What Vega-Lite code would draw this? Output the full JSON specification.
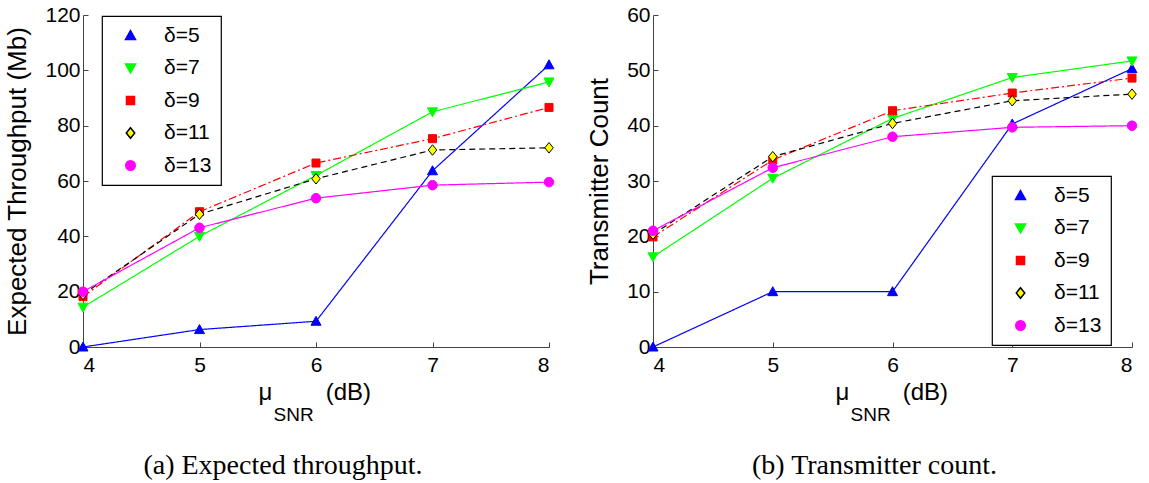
{
  "$schema": "https://vega.github.io/schema/vega-lite/v6.json",
  "background": "white",
  "padding": {"left": 4, "top": 4, "right": 5, "bottom": 0},
  "spacing": 30,
  "config": {
    "font": "Liberation Sans",
    "view": {"stroke": null},
    "axis": {
      "labelFont": "Liberation Sans",
      "titleFont": "Liberation Sans",
      "labelFontSize": 21,
      "titleFontSize": 26,
      "titleFontWeight": "normal",
      "labelColor": "black",
      "titleColor": "black",
      "domainColor": "#444444",
      "tickColor": "#444444",
      "domainWidth": 1,
      "tickWidth": 1,
      "tickSize": -5,
      "grid": false
    },
    "axisY": {"labelPadding": 8, "titlePadding": 14},
    "axisX": {"labelPadding": 12},
    "legend": {
      "labelFont": "Liberation Sans",
      "labelFontSize": 21,
      "labelColor": "black",
      "strokeColor": "black",
      "fillColor": "white",
      "strokeWidth": 1.2,
      "padding": 9,
      "rowPadding": 10.5,
      "symbolSize": 100,
      "symbolOffset": 9,
      "labelOffset": 23,
      "cornerRadius": 0
    },
    "title": {
      "font": "Liberation Serif",
      "fontSize": 28,
      "fontWeight": "normal",
      "color": "black"
    }
  },
  "resolve": {
    "scale": {"color": "independent", "strokeDash": "independent", "shape": "independent", "fill": "independent", "stroke": "independent"},
    "legend": {"shape": "independent", "fill": "independent", "stroke": "independent", "color": "independent", "strokeDash": "independent"}
  },
  "datasets": {
    "throughput": [
      {"snr": 4, "delta": "δ=5", "value": 0},
      {"snr": 5, "delta": "δ=5", "value": 6.3},
      {"snr": 6, "delta": "δ=5", "value": 9.3},
      {"snr": 7, "delta": "δ=5", "value": 63.7},
      {"snr": 8, "delta": "δ=5", "value": 102},
      {"snr": 4, "delta": "δ=7", "value": 14.4},
      {"snr": 5, "delta": "δ=7", "value": 40},
      {"snr": 6, "delta": "δ=7", "value": 62},
      {"snr": 7, "delta": "δ=7", "value": 85},
      {"snr": 8, "delta": "δ=7", "value": 95.8},
      {"snr": 4, "delta": "δ=9", "value": 18.2},
      {"snr": 5, "delta": "δ=9", "value": 48.9},
      {"snr": 6, "delta": "δ=9", "value": 66.5},
      {"snr": 7, "delta": "δ=9", "value": 75.3},
      {"snr": 8, "delta": "δ=9", "value": 86.6},
      {"snr": 4, "delta": "δ=11", "value": 19},
      {"snr": 5, "delta": "δ=11", "value": 48},
      {"snr": 6, "delta": "δ=11", "value": 60.8},
      {"snr": 7, "delta": "δ=11", "value": 71.2},
      {"snr": 8, "delta": "δ=11", "value": 72},
      {"snr": 4, "delta": "δ=13", "value": 20},
      {"snr": 5, "delta": "δ=13", "value": 43.1},
      {"snr": 6, "delta": "δ=13", "value": 53.8},
      {"snr": 7, "delta": "δ=13", "value": 58.5},
      {"snr": 8, "delta": "δ=13", "value": 59.6}
    ],
    "count": [
      {"snr": 4, "delta": "δ=5", "value": 0},
      {"snr": 5, "delta": "δ=5", "value": 10},
      {"snr": 6, "delta": "δ=5", "value": 10},
      {"snr": 7, "delta": "δ=5", "value": 40.3},
      {"snr": 8, "delta": "δ=5", "value": 50.3},
      {"snr": 4, "delta": "δ=7", "value": 16.3},
      {"snr": 5, "delta": "δ=7", "value": 30.5},
      {"snr": 6, "delta": "δ=7", "value": 41.3},
      {"snr": 7, "delta": "δ=7", "value": 48.7},
      {"snr": 8, "delta": "δ=7", "value": 51.7},
      {"snr": 4, "delta": "δ=9", "value": 19.9},
      {"snr": 5, "delta": "δ=9", "value": 33.8},
      {"snr": 6, "delta": "δ=9", "value": 42.7},
      {"snr": 7, "delta": "δ=9", "value": 45.9},
      {"snr": 8, "delta": "δ=9", "value": 48.6},
      {"snr": 4, "delta": "δ=11", "value": 20.4},
      {"snr": 5, "delta": "δ=11", "value": 34.4},
      {"snr": 6, "delta": "δ=11", "value": 40.4},
      {"snr": 7, "delta": "δ=11", "value": 44.5},
      {"snr": 8, "delta": "δ=11", "value": 45.7},
      {"snr": 4, "delta": "δ=13", "value": 21},
      {"snr": 5, "delta": "δ=13", "value": 32.4},
      {"snr": 6, "delta": "δ=13", "value": 38},
      {"snr": 7, "delta": "δ=13", "value": 39.7},
      {"snr": 8, "delta": "δ=13", "value": 40}
    ]
  },
  "hconcat": [
    {
      "width": 466,
      "height": 332,
      "title": {"text": "(a) Expected throughput.", "orient": "bottom", "anchor": "middle", "offset": 28, "dx": -33},
      "data": {"name": "throughput"},
      "resolve": {"axis": {"x": "independent"}},
      "layer": [
        {
          "mark": {"type": "line", "strokeWidth": 1.2},
          "encoding": {
            "x": {"field": "snr", "type": "quantitative", "scale": {"domain": [4, 8], "nice": false},
              "axis": {"orient": "bottom", "values": [4, 5, 6, 7, 8], "title": "μ\u00a0\u00a0\u00a0\u00a0\u00a0\u00a0\u00a0\u00a0(dB)", "titleFontSize": 24, "titleAlign": "left", "titleBaseline": "alphabetic", "titleX": 175, "titleY": 52}},
            "y": {"field": "value", "type": "quantitative", "scale": {"domain": [0, 120], "nice": false},
              "axis": {"values": [0, 20, 40, 60, 80, 100, 120], "title": "Expected Throughput (Mb)"}},
            "color": {"field": "delta", "type": "nominal", "sort": null,
              "scale": {"range": ["#0000ff", "#00ff00", "#ff0000", "#000000", "#ff00ff"]}, "legend": null},
            "strokeDash": {"field": "delta", "type": "nominal", "sort": null,
              "scale": {"range": [[1, 0], [1, 0], [8, 3, 2, 3], [6, 4], [1, 0]]}, "legend": null}
          }
        },
        {
          "mark": {"type": "point", "filled": true, "size": 100, "opacity": 1, "strokeWidth": 1},
          "encoding": {
            "x": {"field": "snr", "type": "quantitative", "scale": {"domain": [4, 8], "nice": false},
              "axis": {"orient": "bottom", "domain": false, "ticks": false, "labels": false, "title": "SNR", "titleFontSize": 19, "titleAlign": "left", "titleBaseline": "alphabetic", "titleX": 190, "titleY": 73}},
            "y": {"field": "value", "type": "quantitative", "scale": {"domain": [0, 120], "nice": false},
              "axis": {"values": [0, 20, 40, 60, 80, 100, 120], "title": "Expected Throughput (Mb)"}},
            "shape": {"field": "delta", "type": "nominal", "sort": null,
              "scale": {"domain": ["δ=5", "δ=7", "δ=9", "δ=11", "δ=13"],
                "range": ["M0,-1L1,0.8L-1,0.8Z", "M0,1L1,-0.8L-1,-0.8Z", "M-0.8,-0.8L0.8,-0.8L0.8,0.8L-0.8,0.8Z", "M0,-1.05L0.85,0L0,1.05L-0.85,0Z", "M-0.95,0A0.95,0.95,0,1,1,0.95,0A0.95,0.95,0,1,1,-0.95,0Z"]},
              "legend": {"title": null, "orient": "none", "legendX": 19, "legendY": 1}
            },
            "fill": {"field": "delta", "type": "nominal", "sort": null,
              "scale": {"domain": ["δ=5", "δ=7", "δ=9", "δ=11", "δ=13"], "range": ["#0000ff", "#00ff00", "#ff0000", "#ffff00", "#ff00ff"]},
              "legend": {"title": null, "orient": "none", "legendX": 19, "legendY": 1}},
            "stroke": {"field": "delta", "type": "nominal", "sort": null,
              "scale": {"domain": ["δ=5", "δ=7", "δ=9", "δ=11", "δ=13"], "range": ["#0000ff", "#00ff00", "#ff0000", "#000000", "#ff00ff"]},
              "legend": {"title": null, "orient": "none", "legendX": 19, "legendY": 1}}
          }
        }
      ]
    },
    {
      "width": 479,
      "height": 332,
      "title": {"text": "(b) Transmitter count.", "orient": "bottom", "anchor": "middle", "offset": 28, "dx": -18},
      "data": {"name": "count"},
      "resolve": {"axis": {"x": "independent"}},
      "layer": [
        {
          "mark": {"type": "line", "strokeWidth": 1.2},
          "encoding": {
            "x": {"field": "snr", "type": "quantitative", "scale": {"domain": [4, 8], "nice": false},
              "axis": {"orient": "bottom", "values": [4, 5, 6, 7, 8], "title": "μ\u00a0\u00a0\u00a0\u00a0\u00a0\u00a0\u00a0\u00a0(dB)", "titleFontSize": 24, "titleAlign": "left", "titleBaseline": "alphabetic", "titleX": 182, "titleY": 52}},
            "y": {"field": "value", "type": "quantitative", "scale": {"domain": [0, 60], "nice": false},
              "axis": {"values": [0, 10, 20, 30, 40, 50, 60], "title": "Transmitter Count"}},
            "color": {"field": "delta", "type": "nominal", "sort": null,
              "scale": {"range": ["#0000ff", "#00ff00", "#ff0000", "#000000", "#ff00ff"]}, "legend": null},
            "strokeDash": {"field": "delta", "type": "nominal", "sort": null,
              "scale": {"range": [[1, 0], [1, 0], [8, 3, 2, 3], [6, 4], [1, 0]]}, "legend": null}
          }
        },
        {
          "mark": {"type": "point", "filled": true, "size": 100, "opacity": 1, "strokeWidth": 1},
          "encoding": {
            "x": {"field": "snr", "type": "quantitative", "scale": {"domain": [4, 8], "nice": false},
              "axis": {"orient": "bottom", "domain": false, "ticks": false, "labels": false, "title": "SNR", "titleFontSize": 19, "titleAlign": "left", "titleBaseline": "alphabetic", "titleX": 197, "titleY": 73}},
            "y": {"field": "value", "type": "quantitative", "scale": {"domain": [0, 60], "nice": false},
              "axis": {"values": [0, 10, 20, 30, 40, 50, 60], "title": "Transmitter Count"}},
            "shape": {"field": "delta", "type": "nominal", "sort": null,
              "scale": {"domain": ["δ=5", "δ=7", "δ=9", "δ=11", "δ=13"],
                "range": ["M0,-1L1,0.8L-1,0.8Z", "M0,1L1,-0.8L-1,-0.8Z", "M-0.8,-0.8L0.8,-0.8L0.8,0.8L-0.8,0.8Z", "M0,-1.05L0.85,0L0,1.05L-0.85,0Z", "M-0.95,0A0.95,0.95,0,1,1,0.95,0A0.95,0.95,0,1,1,-0.95,0Z"]},
              "legend": {"title": null, "orient": "none", "legendX": 339, "legendY": 161}
            },
            "fill": {"field": "delta", "type": "nominal", "sort": null,
              "scale": {"domain": ["δ=5", "δ=7", "δ=9", "δ=11", "δ=13"], "range": ["#0000ff", "#00ff00", "#ff0000", "#ffff00", "#ff00ff"]},
              "legend": {"title": null, "orient": "none", "legendX": 339, "legendY": 161}},
            "stroke": {"field": "delta", "type": "nominal", "sort": null,
              "scale": {"domain": ["δ=5", "δ=7", "δ=9", "δ=11", "δ=13"], "range": ["#0000ff", "#00ff00", "#ff0000", "#000000", "#ff00ff"]},
              "legend": {"title": null, "orient": "none", "legendX": 339, "legendY": 161}}
          }
        }
      ]
    }
  ]
}
